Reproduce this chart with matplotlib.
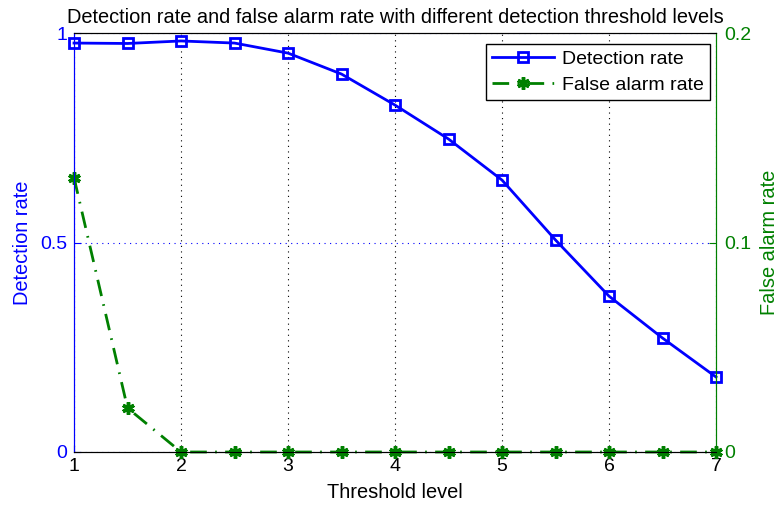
import numpy as np
import matplotlib
matplotlib.use("Agg")
import matplotlib.pyplot as plt

plt.rcParams['font.family'] = ['Liberation Sans', 'DejaVu Sans']
plt.rcParams['font.size'] = 14

# threshold levels and measured rates
threshold = [1, 1.5, 2, 2.5, 3, 3.5, 4, 4.5, 5, 5.5, 6, 6.5, 7]
detection_rate = [0.976, 0.975, 0.981, 0.976, 0.952, 0.902, 0.828, 0.747, 0.649, 0.506, 0.372, 0.272, 0.179]
false_alarm_rate = [0.131, 0.021, 0.0, 0.0, 0.0, 0.0, 0.0, 0.0, 0.0, 0.0, 0.0, 0.0, 0.0]
x_ticks = [1, 2, 3, 4, 5, 6, 7]
left_ticks = [0, 0.5, 1]
right_ticks = [0, 0.1, 0.2]

blue = '#0000ff'
green = '#008000'

fig = plt.figure(figsize=(7.8, 5.05), dpi=100)
ax = fig.add_axes([74/780, 53/505, 642/780, 419/505])
ax2 = ax.twinx()

l1, = ax.plot(threshold, detection_rate, '-', color=blue, lw=2, marker='s',
              ms=7, mfc='none', mec=blue, mew=2, label='Detection rate', clip_on=False)
l2, = ax2.plot(threshold, false_alarm_rate, color=green, lw=2, ls=(0, (6, 3, 0.6, 3)),
               marker=(6, 2, 0), ms=9, mec=green, mew=2.5, label='False alarm rate', clip_on=False)

ax.set_xlim(1, 7)
ax.set_ylim(0, 1)
ax2.set_ylim(0, 0.2)
ax.set_xticks(x_ticks)
ax.set_xticklabels([str(t) for t in x_ticks])
ax.set_yticks(left_ticks)
ax.set_yticklabels(['0', '0.5', '1'])
ax2.set_yticks(right_ticks)
ax2.set_yticklabels(['0', '0.1', '0.2'])

ax.tick_params(direction='in', length=5, colors='black', pad=4, labelsize=14)
ax.tick_params(axis='y', colors=blue, pad=5)
ax2.tick_params(axis='y', direction='in', length=5, colors=green, pad=6, labelsize=14)

ax.xaxis.grid(True, linestyle=(0, (1, 4)), color='black', lw=0.8)
ax.yaxis.grid(True, linestyle=(0, (1, 4)), color=blue, lw=0.8)

for a in (ax, ax2):
    a.spines['top'].set_color('black')
    a.spines['bottom'].set_color('black')
ax.spines['left'].set_color(blue)
ax2.spines['left'].set_color(blue)
ax.spines['right'].set_color(green)
ax2.spines['right'].set_color(green)

ax.set_xlabel('Threshold level', fontsize=14.4, labelpad=6)
ax.set_ylabel('Detection rate', color=blue, fontsize=14.4, labelpad=6)
ax2.set_ylabel('False alarm rate', color=green, fontsize=14.4, labelpad=6)
ax.set_title('Detection rate and false alarm rate with different detection threshold levels',
             fontsize=14.4, pad=7)

leg = ax2.legend([l1, l2], ['Detection rate', 'False alarm rate'], loc='upper right',
                 bbox_to_anchor=(0.99, 0.973), fancybox=False, edgecolor='black',
                 framealpha=1, handlelength=3.2, borderpad=0.3, labelspacing=0.45,
                 handletextpad=0.4, fontsize=14, borderaxespad=0)
leg.get_frame().set_linewidth(1)

fig.savefig('out.png', dpi=100)
